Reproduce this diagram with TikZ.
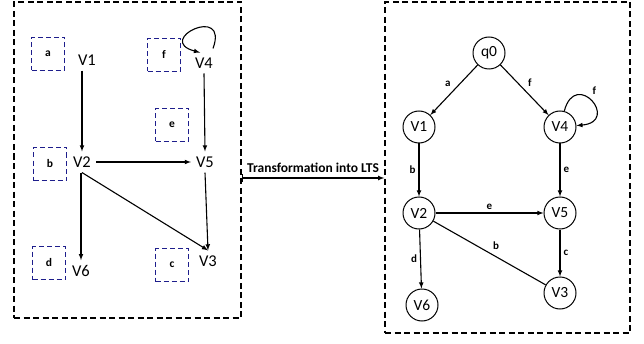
\documentclass[tikz,border=0pt]{standalone}
\usepackage{fontspec}
\setmainfont{Carlito}
\definecolor{boxblue}{RGB}{30,30,140}
\begin{document}
\begin{tikzpicture}[x=1pt,y=1pt,
    frame/.style={draw,dash pattern=on 6pt off 3.5pt,line width=1.4pt,inner sep=0pt},
    tag/.style={draw=boxblue,dash pattern=on 5pt off 3pt,line width=1.5pt,minimum size=33pt,inner sep=0pt,font=\fontsize{11.5}{13}\selectfont\bfseries},
    vtx/.style={font=\fontsize{16.5}{18}\selectfont,inner sep=5pt},
    st/.style={circle,draw,line width=1pt,minimum size=32pt,inner sep=0pt,font=\fontsize{15.5}{16}\selectfont},
    lbl/.style={font=\fontsize{11}{12}\selectfont\bfseries,inner sep=3pt},
    ar/.style={-latex,line width=1.1pt}]
        \useasboundingbox (0,0) rectangle (644,343);
        \node[frame,minimum width=227pt,minimum height=316pt](lbox)at(127.5,183){};
        \node[frame,minimum width=245pt,minimum height=331pt](rbox)at(507.5,175.5){};
        \node[tag](ta)at(48,289){a};
        \node[tag](tf)at(164,288){f};
        \node[tag](te)at(172,218){e};
        \node[tag](tb)at(50,179){b};
        \node[tag](td)at(49,80){d};
        \node[tag](tc)at(172,78){c};
        \node[vtx](l1)at(87,283){V1};
        \node[vtx](l4)at(204,280){V4};
        \node[vtx](l2)at(82,181){V2};
        \node[vtx](l5)at(205,181){V5};
        \node[vtx](l6)at(81,72){V6};
        \node[vtx](l3)at(208,82){V3};
        \draw[ar](l2.north |- l1.south)--(l2.north);
        \draw[ar](l4.south)--(l5.north);
        \draw[ar](l2)--(l5);
        \draw[ar](l2.south -| l6.north)--(l6.north);
        \draw[ar](l2.south)--(l3.north);
        \draw[ar](l5.south)--(l3.north);
        \draw[ar]([xshift=9pt,yshift=4pt]l4.north) to[out=70,in=165,looseness=9] ([xshift=-4pt]l4.north);
        \coordinate (tr) at (313,165);
        \draw[|-latex,line width=1.1pt](tr -| lbox.east)--(tr -| rbox.west) node[midway,above=2pt,font=\fontsize{13.5}{15}\selectfont\bfseries]{Transformation into LTS};
        \node[st](q0)at(489,290){q0};
        \node[st](r1)at(419,216){V1};
        \node[st](r4)at(560,216){V4};
        \node[st](r2)at(419,130){V2};
        \node[st](r5)at(560,130){V5};
        \node[st](r6)at(422,38){V6};
        \node[st](r3)at(560,50){V3};
        \draw[ar](q0)--node[lbl,above left]{a}(r1);
        \draw[ar](q0)--node[lbl,above right]{f}(r4);
        \draw[ar](r4)to[out=75,in=5,looseness=6]node[lbl,above right,pos=0.45]{f}(r4);
        \draw[ar](r1)--node[lbl,left]{b}(r2);
        \draw[ar](r4)--node[lbl,right]{e}(r5);
        \draw[ar](r2)--node[lbl,above]{e}(r5);
        \draw[ar](r2)--node[lbl,left]{d}(r6);
        \draw[line width=1.1pt](r2)--node[lbl,above right]{b}(r3);
        \draw[ar](r5)--node[lbl,right]{c}(r3);
\end{tikzpicture}
\end{document}
